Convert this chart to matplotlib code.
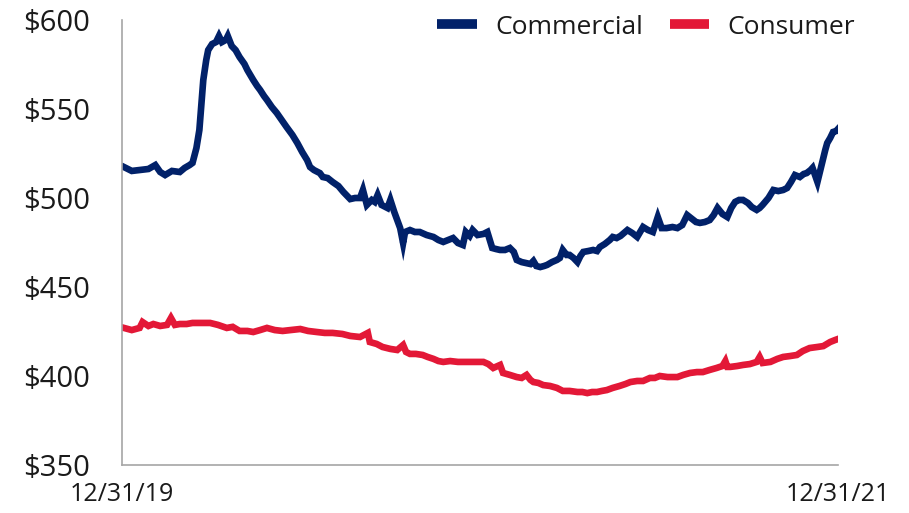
import matplotlib
matplotlib.use('Agg')
import matplotlib.pyplot as plt
from matplotlib.lines import Line2D

# Days since 12/31/19 and balances ($B)
comm_day = [2, 10, 18, 27, 34, 39, 44, 51, 59, 64, 69, 72, 76, 79, 81, 83, 86, 88, 92, 96,
            99, 102, 106, 108, 112, 116, 120, 125, 128, 131, 134, 138, 141, 145, 148, 153,
            158, 163, 168, 174, 179, 184, 189, 192, 196, 202, 205, 210, 215, 221, 226, 233,
            238, 243, 246, 250, 255, 258, 261, 265, 271, 274, 278, 281, 284, 287, 289, 294,
            299, 304, 311, 318, 323, 328, 333, 338, 343, 348, 351, 355, 358, 363, 369, 373,
            378, 382, 386, 391, 396, 400, 403, 408, 412, 417, 420, 423, 427, 431, 434, 439,
            444, 447, 450, 454, 457, 461, 465, 468, 471, 476, 481, 485, 488, 493, 498, 501,
            505, 509, 516, 521, 526, 532, 537, 542, 547, 551, 556, 562, 567, 572, 577, 582,
            586, 590, 595, 600, 604, 608, 613, 618, 622, 626, 630, 634, 639, 643, 648, 651,
            654, 660, 665, 670, 675, 679, 683, 687, 692, 696, 699, 703, 705, 710, 713, 715,
            718, 720, 723, 726, 729, 731]
comm_val = [517.4, 515.2, 515.7, 516.3, 518.5, 514.6, 512.9, 515.2, 514.6, 516.9, 518.5, 519.7,
            528.1, 538.2, 552.2, 566.3, 577.5, 583.1, 586.5, 587.6, 591.0, 587.6, 588.8, 591.0,
            585.4, 583.1, 579.2, 575.3, 571.9, 569.1, 566.3, 562.9, 560.7, 557.3, 555.1, 551.1,
            547.8, 543.8, 539.9, 535.4, 530.9, 525.8, 521.3, 517.4, 515.7, 514.0, 511.8, 511.2,
            509.0, 506.7, 503.4, 499.4, 500.0, 500.0, 504.5, 496.1, 498.9, 497.8, 501.7, 496.1,
            494.4, 498.9, 492.1, 487.6, 483.1, 474.7, 480.9, 482.0, 480.9, 480.9, 479.2, 478.1,
            476.4, 475.3, 476.4, 477.5, 474.7, 473.6, 480.9, 478.7, 482.0, 479.2, 479.8, 480.9,
            471.9, 471.3, 470.8, 470.8, 471.9, 469.7, 465.2, 464.0, 463.5, 462.9, 464.6, 461.8,
            461.2, 461.8, 462.4, 464.0, 465.2, 466.3, 470.8, 468.0, 468.0, 466.3, 464.0, 467.4,
            469.7, 470.2, 470.8, 470.2, 472.5, 474.2, 476.4, 478.1, 477.5, 478.7, 482.0, 480.3,
            478.1, 483.7, 482.0, 480.9, 489.3, 483.1, 483.1, 483.7, 483.1, 484.8, 490.4, 488.2,
            486.5, 486.0, 486.5, 487.6, 490.4, 494.4, 491.0, 489.3, 494.4, 497.8, 498.9, 498.9,
            497.2, 494.9, 493.3, 494.4, 496.1, 500.0, 504.5, 503.9, 504.5, 505.6, 509.0, 512.9,
            511.8, 513.5, 514.0, 515.7, 516.9, 509.0, 515.7, 520.2, 527.0, 530.9, 533.7, 537.1,
            537.6, 538.8]

cons_day = [2, 10, 18, 21, 27, 32, 39, 46, 50, 54, 59, 66, 72, 80, 90, 98, 107, 113, 120, 128,
            134, 141, 148, 156, 164, 172, 182, 190, 199, 207, 215, 225, 233, 243, 251, 253, 260,
            266, 274, 281, 287, 290, 294, 300, 307, 312, 318, 323, 328, 335, 343, 352, 360, 369,
            374, 379, 386, 389, 396, 403, 408, 413, 417, 420, 425, 430, 437, 444, 450, 457, 465,
            470, 475, 480, 485, 490, 495, 501, 508, 514, 519, 526, 532, 539, 544, 549, 557, 567,
            573, 580, 587, 593, 600, 607, 613, 616, 618, 621, 628, 634, 641, 648, 651, 654, 662,
            669, 675, 682, 689, 695, 702, 710, 716, 723, 728, 731]
cons_val = [427.0, 425.8, 427.0, 430.3, 428.1, 429.2, 428.1, 428.7, 432.6, 428.7, 429.2, 429.2,
            429.8, 429.8, 429.8, 428.7, 427.0, 427.6, 425.3, 425.3, 424.7, 425.8, 427.0, 425.8,
            425.3, 425.8, 426.4, 425.3, 424.7, 424.2, 424.2, 423.6, 422.5, 421.9, 424.2, 419.1,
            418.0, 416.3, 415.2, 414.6, 417.4, 413.5, 412.4, 412.4, 411.8, 410.7, 409.6, 408.4,
            407.9, 408.4, 407.9, 407.9, 407.9, 407.9, 406.7, 404.5, 406.2, 401.7, 400.6, 399.4,
            398.9, 400.6, 397.8, 396.6, 396.1, 394.9, 394.4, 393.3, 391.6, 391.6, 391.0, 391.0,
            390.4, 391.0, 391.0, 391.6, 392.1, 393.3, 394.4, 395.5, 396.6, 397.2, 397.2, 398.9,
            398.9, 400.0, 399.4, 399.4, 400.6, 401.7, 402.2, 402.2, 403.4, 404.5, 405.6, 408.4,
            405.1, 405.1, 405.6, 406.2, 406.7, 407.9, 410.7, 407.3, 407.9, 409.6, 410.7, 411.2,
            411.8, 414.0, 415.7, 416.3, 416.8, 419.1, 420.2, 420.8]

start_label = '12/31/19'
end_label = '12/31/21'
y_ticks = [350, 400, 450, 500, 550, 600]

navy = '#012169'
red = '#E31837'

plt.rcParams['font.family'] = ['Open Sans', 'DejaVu Sans']

fig = plt.figure(figsize=(9.09, 5.13), dpi=100)
ax = fig.add_axes([0.1342, 0.0936, 0.7877, 0.8674])

ax.plot(comm_day, comm_val, color=navy, lw=4.8, solid_joinstyle='miter')
ax.plot(cons_day, cons_val, color=red, lw=4.8, solid_joinstyle='miter')

ax.set_xlim(0, 731)
ax.set_ylim(350, 600)
ax.set_yticks(y_ticks)
ax.set_yticklabels(['$' + str(v) for v in y_ticks])
ax.set_xticks([0, 731])
ax.set_xticklabels([start_label, end_label])

ax.tick_params(axis='y', length=0, pad=23, labelsize=21, labelcolor='#1a1a1a')
ax.tick_params(axis='x', length=0, pad=12, labelsize=18, labelcolor='#1a1a1a')

for side in ['top', 'right']:
    ax.spines[side].set_visible(False)
for side in ['left', 'bottom']:
    ax.spines[side].set_color('#a6a6a6')
    ax.spines[side].set_linewidth(1.2)

handles = [Line2D([], [], color=navy, lw=7, solid_capstyle='butt'),
           Line2D([], [], color=red, lw=7, solid_capstyle='butt')]
fig.legend(handles, ['Commercial', 'Consumer'], loc='center right',
           bbox_to_anchor=(0.967, 0.947), ncol=2, frameon=False, fontsize=19,
           handlelength=1.5, handletextpad=0.7, columnspacing=1.0,
           labelcolor='#1a1a1a')

fig.savefig('out.png', dpi=100)
